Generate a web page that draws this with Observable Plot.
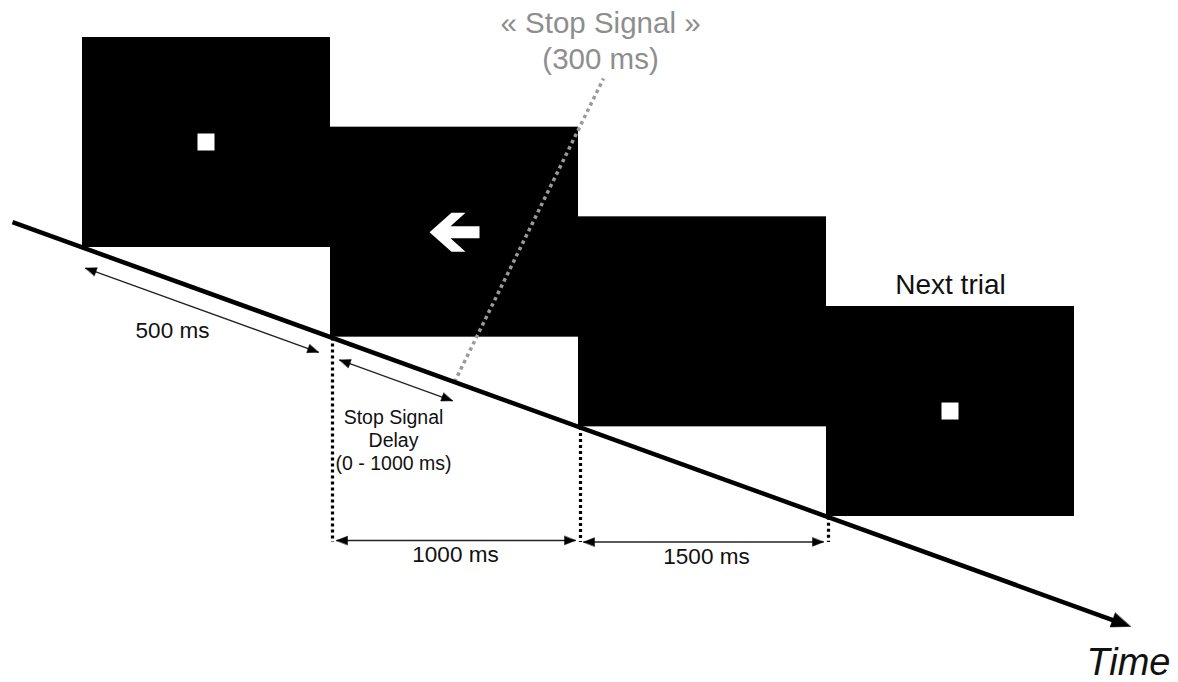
<!DOCTYPE html>
<html><head><meta charset="utf-8">
<script src="https://cdn.jsdelivr.net/npm/d3@7"></script>
<script src="https://cdn.jsdelivr.net/npm/@observablehq/plot@0.6"></script>
<style>html,body{margin:0;padding:0;background:#fff;} #chart svg{display:block}</style>
</head><body><div id="chart"></div>
<script>
// ---------------- data ----------------
const screenIndex = [0, 1, 2, 3];
const screenContent = ["fixation", "go", "blank", "fixation"];
const intervalScreens = [0, 1, 2];
const intervalLabels = ["500 ms", "1000 ms", "1500 ms"];
const ssdLabel = ["Stop Signal", "Delay", "(0 - 1000 ms)"];
const stopSignalLabel = ["« Stop Signal »", "(300 ms)"];
const stopSignalOnset = 1.5;          // onset within the go screen, in screen units
const nextTrialLabel = "Next trial";
const axisLabel = "Time";

// ---------------- layout ----------------
const W = 1178, H = 682;
const SLOT = 248, ROW = 89.67, X0 = 82, Y0 = 37;
const ux = p => p / SLOT, uy = p => p / ROW;
const SCREEN_H = uy(210);
const tl = u => u + SCREEN_H;                 // time line passes through each screen's lower-left corner
const FONT = "Liberation Sans, Arial, Helvetica, sans-serif";
const INK = "#111";

function head(tu, tv, dxp, dyp, L, w) {
  const n = Math.hypot(dxp, dyp), cx = dxp / n, cy = dyp / n;
  const bx = -L * cx, by = -L * cy;
  return [[tu, tv], [tu + ux(bx - w * cy), tv + uy(by + w * cx)], [tu + ux(bx + w * cy), tv + uy(by - w * cx)]];
}
const heads = [];
const thinLines = [];
function dbl(au, av, bu, bv) {
  const dxp = (bu - au) * SLOT, dyp = (bv - av) * ROW;
  thinLines.push({id: thinLines.length, pts: [[au, av], [bu, bv]]});
  heads.push(head(bu, bv, dxp, dyp, 11, 4.3));
  heads.push(head(au, av, -dxp, -dyp, 11, 4.3));
}

// screens
const screens = screenIndex.map(i => ({i, kind: screenContent[i], x1: i, x2: i + 1, y1: i, y2: i + SCREEN_H}));
const fix = screens.filter(d => d.kind === "fixation");
const S = ux(8.5), SV = uy(8.5);

// go arrow glyph (pixel offsets from screen centre)
const goGlyph = [[-25,0],[-3,-19.5],[11,-19.5],[-4,-6],[25,-6],[25,6],[-4,6],[11,19.5],[-3,19.5]];
const goPts = screens.filter(d => d.kind === "go").flatMap(d =>
  goGlyph.map(([px, py]) => ({id: d.i, u: d.i + 0.5 + ux(px), v: d.i + SCREEN_H / 2 + uy(py)})));

// time line
const u0 = ux(12 - X0), uTip = ux(1130 - X0);
const timeHead = head(uTip, tl(uTip), SLOT, ROW, 19, 7.5);
const hl = 19 / Math.hypot(SLOT, ROW);
const timeLine = [[u0, tl(u0)], [uTip - hl * 0.8, tl(uTip - hl * 0.8)]];
heads.push(timeHead);

// interval arrows
const OFF = uy(19.5);
const vMeas = 3 + SCREEN_H + uy(24);
// 500 ms (parallel to time line)
dbl(ux(3), tl(ux(3)) + OFF, 1 - ux(12), tl(1 - ux(12)) + OFF);
// stop signal delay
dbl(1 + ux(9), tl(1 + ux(9)) + OFF, stopSignalOnset - ux(2), tl(stopSignalOnset - ux(2)) + OFF);
// 1000 / 1500 ms (horizontal)
dbl(1 + ux(6), vMeas, 2 - ux(3), vMeas);
dbl(2 + ux(5), vMeas + uy(1.5), 3 - ux(3), vMeas + uy(1.5));

const boundaries = [1, 2, 3];
const headPts = heads.flatMap((h, k) => h.map(p => ({id: k, u: p[0], v: p[1]})));
const thinPts = thinLines.flatMap(l => l.pts.map(p => ({id: l.id, u: p[0], v: p[1]})));

// label anchors
const labelU = ux(600 - X0), labelV = uy(68 - Y0);
const gray = [[stopSignalOnset, tl(stopSignalOnset)], [labelU + ux(3), labelV + uy(10)]];

const intervalText = intervalScreens.map((s, k) => {
  if (k === 0) return {t: intervalLabels[k], u: ux(172 - X0), v: uy(337 - Y0)};
  return {t: intervalLabels[k], u: s + 0.5 + ux(k === 2 ? 4 : 1), v: vMeas + uy(k === 2 ? 23 : 21)};
});

const chart = Plot.plot({
  width: W, height: H, margin: 0,
  x: {domain: [-X0 / SLOT, (W - X0) / SLOT], range: [0, W], axis: null},
  y: {domain: [-Y0 / ROW, (H - Y0) / ROW], range: [0, H], axis: null},
  style: {background: "white", overflow: "visible"},
  marks: [
    Plot.rect(screens, {x1: "x1", x2: "x2", y1: "y1", y2: "y2", fill: "black"}),
    Plot.rect(fix, {x1: d => d.i + 0.5 - S, x2: d => d.i + 0.5 + S, y1: d => d.i + SCREEN_H / 2 - SV, y2: d => d.i + SCREEN_H / 2 + SV, fill: "white"}),
    Plot.line(goPts, {x: "u", y: "v", z: "id", fill: "white", stroke: "none", curve: "linear-closed"}),
    Plot.line(gray, {x: d => d[0], y: d => d[1], stroke: "#9a9a9a", strokeWidth: 3.5, strokeDasharray: "3.5,3.5", strokeLinecap: "butt"}),
    Plot.ruleX(boundaries, {x: d => d + ux(2), y1: d => tl(d + ux(2)), y2: vMeas + uy(2), stroke: "black", strokeWidth: 3.2, strokeDasharray: "3,3"}),
    Plot.line(timeLine, {x: d => d[0], y: d => d[1], stroke: "black", strokeWidth: 4.5, strokeLinecap: "butt"}),
    Plot.line(thinPts, {x: "u", y: "v", z: "id", stroke: "#222", strokeWidth: 1.3, strokeLinecap: "butt"}),
    Plot.line(headPts, {x: "u", y: "v", z: "id", fill: "black", stroke: "black", strokeWidth: 0.5, curve: "linear-closed"}),
    Plot.text(intervalText, {x: "u", y: "v", text: "t", fontSize: 22.5, fontFamily: FONT, fill: INK, lineAnchor: "bottom"}),
    Plot.text([ssdLabel.join("\n")], {x: ux(393 - X0), y: uy(469 - Y0), text: d => d, fontSize: 19.5, lineHeight: 23 / 19.5, fontFamily: FONT, fill: INK, lineAnchor: "bottom"}),
    Plot.text([stopSignalLabel.join("\n")], {x: labelU, y: labelV, text: d => d, fontSize: 29.5, lineHeight: 36 / 29.5, fontFamily: FONT, fill: "#8e8e8e", lineAnchor: "bottom"}),
    Plot.text([nextTrialLabel], {x: 3.5, y: 3 - uy(13), text: d => d, fontSize: 28, fontFamily: FONT, fill: INK, lineAnchor: "bottom"}),
    Plot.text([axisLabel], {x: ux(1170 - X0), y: uy(674 - Y0), text: d => d, fontSize: 38, fontStyle: "italic", fontFamily: FONT, fill: INK, textAnchor: "end", lineAnchor: "bottom"})
  ]
});
document.getElementById("chart").appendChild(chart);
</script>
</body></html>
